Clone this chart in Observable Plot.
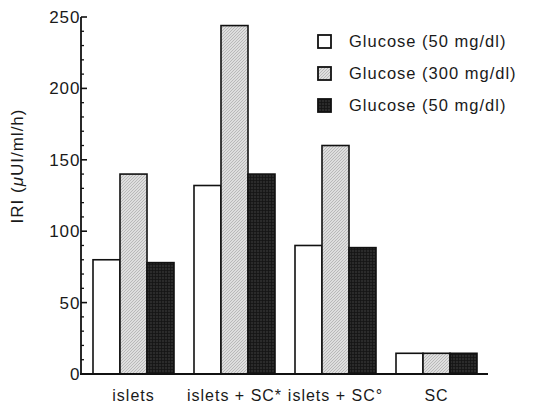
<!DOCTYPE html>
<html><head><meta charset="utf-8">
<script src="https://cdn.jsdelivr.net/npm/d3@7"></script>
<script src="https://cdn.jsdelivr.net/npm/@observablehq/plot@0.6"></script>
<style>
body{margin:0;background:#fff;}
#chart{position:relative;width:535px;height:405px;}
#chart svg text{letter-spacing:1px;}
</style></head><body>
<svg width="0" height="0" style="position:absolute">
  <defs>
    <pattern id="hatch" width="3" height="3" patternUnits="userSpaceOnUse">
      <rect width="3" height="3" fill="#dedede"/>
      <path d="M-1,1 l2,-2 M0,3 l3,-3 M2,4 l2,-2" stroke="#a9a9a9" stroke-width="0.7"/>
    </pattern>
    <pattern id="cross" width="3" height="3" patternUnits="userSpaceOnUse">
      <rect width="3" height="3" fill="#2b2b2b"/>
      <path d="M0,0.5 h3 M0.5,0 v3" stroke="#141414" stroke-width="0.8"/>
    </pattern>
  </defs>
</svg>
<div id="chart"></div>
<script>
const categories = ["islets", "islets + SC*", "islets + SC°", "SC"];
const seriesKeys = ["low1", "high", "low2"];
const seriesLabels = ["Glucose (50 mg/dl)", "Glucose (300 mg/dl)", "Glucose (50 mg/dl)"];
const low1 = [80, 132, 90, 14.5];
const high = [140, 244, 160, 14.5];
const low2 = [78, 140, 88.5, 14.5];
const yTicks = [0, 50, 100, 150, 200, 250];
const yMinorTicks = d3.range(0, 251, 10).filter(v => v % 50 !== 0);
const fills = ["#ffffff", "url(#hatch)", "url(#cross)"];

const seriesValues = [low1, high, low2];
const data = categories.flatMap((c, i) =>
  seriesKeys.map((k, j) => ({category: c, series: k, value: seriesValues[j][i]})));

const font = '"Liberation Sans", Arial, Helvetica, sans-serif';

const plot = Plot.plot({
  width: 535, height: 405,
  marginLeft: 81, marginRight: 47, marginTop: 17, marginBottom: 31,
  style: {fontFamily: font, fontSize: "16px", color: "#1a1a1a", background: "#fff"},
  fx: {domain: categories, paddingInner: 0.19, paddingOuter: 0.097, label: null, axis: null},
  x: {domain: seriesKeys, padding: 0, axis: null},
  y: {domain: [0, 250], axis: null},
  color: {domain: seriesKeys, range: fills},
  marks: [
    Plot.barY(data, {fx: "category", x: "series", y: "value", fill: "series", stroke: "#111", strokeWidth: 1.6}),
    Plot.axisFx({anchor: "bottom", tickSize: 0, tickPadding: 15, label: null, fontSize: 16}),
    Plot.axisY({ticks: yTicks, tickSize: 0, tickPadding: 12, label: null, fontSize: 17})
  ]
});

const svg = d3.select(plot);
const y = plot.scale("y");
const x0 = 81, x1 = 535 - 47;
// tick marks (pointing inward)
const tg = svg.append("g").attr("stroke", "#111");
yTicks.forEach(v => tg.append("line").attr("x1", x0).attr("x2", x0 + 6)
  .attr("y1", y.apply(v)).attr("y2", y.apply(v)).attr("stroke-width", 1.6));
yMinorTicks.forEach(v => tg.append("line").attr("x1", x0).attr("x2", x0 + 3)
  .attr("y1", y.apply(v)).attr("y2", y.apply(v)).attr("stroke-width", 1.3));
// axis lines
svg.append("line").attr("x1", x0).attr("x2", x0).attr("y1", y.apply(0)).attr("y2", y.apply(250))
  .attr("stroke", "#111").attr("stroke-width", 1.8);
svg.append("line").attr("x1", x0 - 1).attr("x2", x1).attr("y1", y.apply(0)).attr("y2", y.apply(0))
  .attr("stroke", "#111").attr("stroke-width", 1.8);

// y label
const yl = svg.append("text").attr("transform", "translate(23,166) rotate(-90)")
  .attr("text-anchor", "middle").attr("font-size", 17).attr("fill", "#1a1a1a");
yl.append("tspan").text("IRI (");
yl.append("tspan").attr("font-style", "italic").text("μ");
yl.append("tspan").text("UI/ml/h)");

// legend
const lg = svg.append("g");
seriesLabels.forEach((lab, i) => {
  const top = 35 + i * 32;
  lg.append("rect").attr("x", 318).attr("y", top).attr("width", 13).attr("height", 13)
    .attr("fill", fills[i]).attr("stroke", "#111").attr("stroke-width", 1.8);
  lg.append("text").attr("x", 349).attr("y", top + 12).attr("text-anchor", "start")
    .attr("font-size", 16.5).attr("fill", "#1a1a1a").text(lab);
});

document.getElementById("chart").appendChild(plot);
</script>
</body></html>
